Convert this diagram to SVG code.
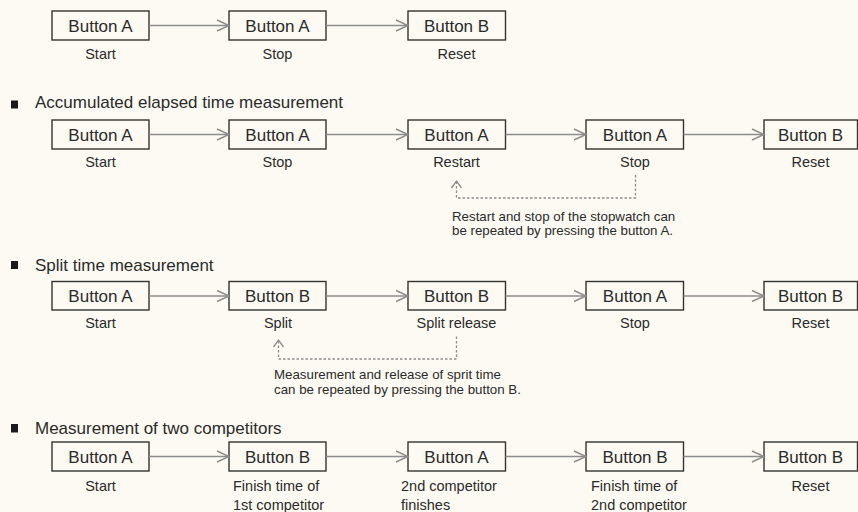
<svg xmlns="http://www.w3.org/2000/svg" width="858" height="512" viewBox="0 0 858 512">
<style>
  .bg { fill: #fcfaf2; }
  .box rect { fill: #fcfaf2; stroke: #333; stroke-width: 1.4; }
  .box text.b { font-family: "Liberation Sans", Arial, sans-serif; font-size: 17px; fill: #2b2b2b; text-anchor: middle; }
  .lbl { font-family: "Liberation Sans", Arial, sans-serif; font-size: 14.5px; fill: #2b2b2b; }
  .lbl.c { text-anchor: middle; }
  .hdr { font-family: "Liberation Sans", Arial, sans-serif; font-size: 17px; fill: #2b2b2b; }
  .note { font-family: "Liberation Sans", Arial, sans-serif; font-size: 13.3px; fill: #2b2b2b; }
  .bullet { fill: #1a1a1a; }
  .conn { fill: none; stroke: #8c8c8c; stroke-width: 1.5; marker-end: url(#arr); }
  .dash { fill: none; stroke: #8c8c8c; stroke-width: 1.3; stroke-dasharray: 2.5 2; marker-end: url(#arrs); }
</style>
<defs>
  <marker id="arr" markerUnits="userSpaceOnUse" markerWidth="14" markerHeight="14" refX="12" refY="6" orient="auto" overflow="visible">
    <path d="M0,0.5 L12,6 L0,11.5" fill="none" stroke="#8c8c8c" stroke-width="1.4"/>
  </marker>
  <marker id="arrs" markerUnits="userSpaceOnUse" markerWidth="10" markerHeight="12" refX="7" refY="5" orient="auto" overflow="visible">
    <path d="M0,0 L7,5 L0,10" fill="none" stroke="#8c8c8c" stroke-width="1.3"/>
  </marker>
</defs>
<rect class="bg" x="0" y="0" width="858" height="512"/>

<!-- Row 1 -->
<g id="r1n1" class="box"><rect x="52" y="11" width="97" height="29"/><text class="b" x="100.5" y="31.5">Button A</text><text class="lbl c" x="100.5" y="59">Start</text></g>
<g id="r1n2" class="box"><rect x="229" y="11" width="97" height="29"/><text class="b" x="277.5" y="31.5">Button A</text><text class="lbl c" x="277.5" y="59">Stop</text></g>
<g id="r1n3" class="box"><rect x="408" y="11" width="97.5" height="29"/><text class="b" x="456.5" y="31.5">Button B</text><text class="lbl c" x="456.5" y="59">Reset</text></g>

<!-- Row 2 -->
<g id="h2"><rect class="bullet" x="11" y="100.5" width="7" height="8"/><text class="hdr" x="35" y="108.3">Accumulated elapsed time measurement</text></g>
<g id="r2n1" class="box"><rect x="52" y="120" width="97" height="29"/><text class="b" x="100.5" y="140.5">Button A</text><text class="lbl c" x="100.5" y="167">Start</text></g>
<g id="r2n2" class="box"><rect x="229" y="120" width="97" height="29"/><text class="b" x="277.5" y="140.5">Button A</text><text class="lbl c" x="277.5" y="167">Stop</text></g>
<g id="r2n3" class="box"><rect x="408" y="120" width="97.5" height="29"/><text class="b" x="456.5" y="140.5">Button A</text><text class="lbl c" x="456.5" y="167">Restart</text></g>
<g id="r2n4" class="box"><rect x="586" y="120" width="97.5" height="29"/><text class="b" x="635" y="140.5">Button A</text><text class="lbl c" x="635" y="167">Stop</text></g>
<g id="r2n5" class="box"><rect x="764" y="120" width="93.5" height="29"/><text class="b" x="810.5" y="140.5">Button B</text><text class="lbl c" x="810.5" y="167">Reset</text></g>
<g id="note2"><text class="note" x="452" y="220.7">Restart and stop of the stopwatch can</text><text class="note" x="452" y="235">be repeated by pressing the button A.</text></g>

<!-- Row 3 -->
<g id="h3"><rect class="bullet" x="11" y="261" width="7" height="8"/><text class="hdr" x="35" y="270.5">Split time measurement</text></g>
<g id="r3n1" class="box"><rect x="52" y="281.5" width="97" height="28.5"/><text class="b" x="100.5" y="301.8">Button A</text><text class="lbl c" x="100.5" y="327.5">Start</text></g>
<g id="r3n2" class="box"><rect x="229" y="281.5" width="97" height="28.5"/><text class="b" x="277.5" y="301.8">Button B</text><text class="lbl c" x="278" y="327.5">Split</text></g>
<g id="r3n3" class="box"><rect x="408" y="281.5" width="97.5" height="28.5"/><text class="b" x="456.5" y="301.8">Button B</text><text class="lbl c" x="456.5" y="327.5">Split release</text></g>
<g id="r3n4" class="box"><rect x="586" y="281.5" width="97.5" height="28.5"/><text class="b" x="635" y="301.8">Button A</text><text class="lbl c" x="635" y="327.5">Stop</text></g>
<g id="r3n5" class="box"><rect x="764" y="281.5" width="93.5" height="28.5"/><text class="b" x="810.5" y="301.8">Button B</text><text class="lbl c" x="810.5" y="327.5">Reset</text></g>
<g id="note3"><text class="note" x="274" y="379">Measurement and release of sprit time</text><text class="note" x="274" y="393.5">can be repeated by pressing the button B.</text></g>

<!-- Row 4 -->
<g id="h4"><rect class="bullet" x="11" y="424" width="7" height="8.5"/><text class="hdr" x="35" y="434">Measurement of two competitors</text></g>
<g id="r4n1" class="box"><rect x="52" y="442" width="97" height="29"/><text class="b" x="100.5" y="462.5">Button A</text><text class="lbl c" x="100.5" y="491">Start</text></g>
<g id="r4n2" class="box"><rect x="229" y="442" width="97" height="29"/><text class="b" x="277.5" y="462.5">Button B</text><text class="lbl" x="233" y="491">Finish time of</text><text class="lbl" x="233" y="510">1st competitor</text></g>
<g id="r4n3" class="box"><rect x="408" y="442" width="97.5" height="29"/><text class="b" x="456.5" y="462.5">Button A</text><text class="lbl" x="401" y="491">2nd competitor</text><text class="lbl" x="401" y="510">finishes</text></g>
<g id="r4n4" class="box"><rect x="586" y="442" width="97.5" height="29"/><text class="b" x="635" y="462.5">Button B</text><text class="lbl" x="591" y="491">Finish time of</text><text class="lbl" x="591" y="510">2nd competitor</text></g>
<g id="r4n5" class="box"><rect x="764" y="442" width="93.5" height="29"/><text class="b" x="810.5" y="462.5">Button B</text><text class="lbl c" x="810.5" y="491">Reset</text></g>

<!-- Connectors -->
<g id="connectors">
  <path class="conn" d="M149,25.5 H229"/>
  <path class="conn" d="M326,25.5 H408"/>

  <path class="conn" d="M149,134.5 H229"/>
  <path class="conn" d="M326,134.5 H408"/>
  <path class="conn" d="M505.5,134.5 H586"/>
  <path class="conn" d="M683.5,134.5 H764"/>
  <path class="dash" d="M635.5,175 V198 H456.5 V181"/>

  <path class="conn" d="M149,296 H229"/>
  <path class="conn" d="M326,296 H408"/>
  <path class="conn" d="M505.5,296 H586"/>
  <path class="conn" d="M683.5,296 H764"/>
  <path class="dash" d="M456.5,336.5 V359 H278.5 V340"/>

  <path class="conn" d="M149,456.5 H229"/>
  <path class="conn" d="M326,456.5 H408"/>
  <path class="conn" d="M505.5,456.5 H586"/>
  <path class="conn" d="M683.5,456.5 H764"/>
</g>
</svg>
